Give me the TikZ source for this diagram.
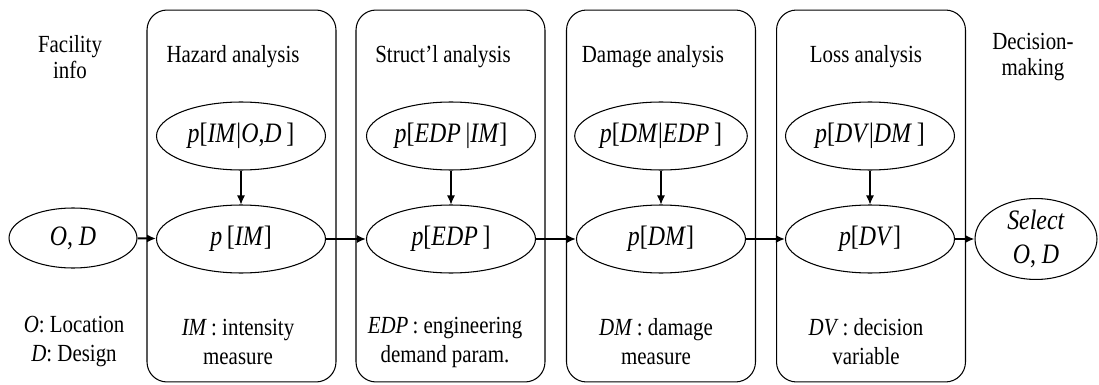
\documentclass[tikz,border=0pt]{standalone}
\usepackage{fontspec}
\setmainfont{Liberation Serif}[FakeStretch=0.85]
\usetikzlibrary{shapes.geometric,arrows.meta}

\tikzset{
  stage/.style={draw, rounded corners=0.4cm, line width=0.6pt, minimum width=3.78cm, minimum height=7.44cm},
  oval/.style={draw, ellipse, line width=0.6pt, inner sep=0pt, minimum width=3.38cm, minimum height=1.36cm, font=\fontsize{16}{18}\selectfont},
  headtext/.style={align=center, font=\fontsize{14}{15}\selectfont},
  notetext/.style={align=center, font=\fontsize{14}{16.5}\selectfont},
  flow/.style={-{Latex[length=1.8mm,width=1.6mm]}, line width=1.1pt},
  feed/.style={-{Latex[length=1.8mm,width=1.6mm]}, line width=0.6pt}
}

\begin{document}
\begin{tikzpicture}[x=0.02cm, y=-0.02cm]
			%%%%% START %%%%%
			\useasboundingbox (0,0) rectangle (1099,385);
			
			\node[stage] (hazbox) at (241.5,196) {};
			\node[stage] (strbox) at (450.5,196) {};
			\node[stage] (dambox) at (661,196) {};
			\node[stage] (losbox) at (871,196) {};
			
			\node[headtext] (facil) at (70,57) {Facility\\info};
			\node[headtext] (hazhead) at (233,57) {Hazard analysis};
			\node[headtext] (strhead) at (443,57) {Struct'l analysis};
			\node[headtext] (damhead) at (653,57) {Damage analysis};
			\node[headtext] (loshead) at (866,57) {Loss analysis};
			\node[headtext] (decis) at (1033,57) {Decision-\\making};
			
			\node[oval] (hazcond) at (241,136) {\textit{p}[\textit{IM}|\textit{O},\textit{D}\,]};
			\node[oval] (strcond) at (451,136) {\textit{p}[\textit{EDP}\,|\textit{IM}]};
			\node[oval] (damcond) at (661,136) {\textit{p}[\textit{DM}|\textit{EDP}\,]};
			\node[oval] (loscond) at (870,136) {\textit{p}[\textit{DV}|\textit{DM}\,]};
			
			\node[oval, minimum width=2.56cm, minimum height=1.2cm] (od) at (73,238) {\textit{O}, \textit{D}};
			\node[oval] (im) at (241,239) {\textit{p\,}[\textit{IM}]};
			\node[oval] (edp) at (451,239) {\textit{p}[\textit{EDP}\,]};
			\node[oval] (dm) at (661,239) {\textit{p}[\textit{DM}]};
			\node[oval] (dv) at (870,239) {\textit{p}[\textit{DV}]};
			\node[oval, minimum width=2.44cm, align=center, font=\fontsize{16}{19}\selectfont] (sel) at (1036,239) {\textit{Select}\\\textit{O}, \textit{D}};
			
			\draw[feed] (hazcond) -- (im);
			\draw[feed] (strcond) -- (edp);
			\draw[feed] (damcond) -- (dm);
			\draw[feed] (loscond) -- (dv);
			
			\draw[flow] (od) -- (im);
			\draw[flow] (im) -- (edp);
			\draw[flow] (edp) -- (dm);
			\draw[flow] (dm) -- (dv);
			\draw[flow] (dv) -- (sel);
			
			\node[notetext] (odnote) at (74,342) {\textit{O}: Location\\\textit{D}: Design};
			\node[notetext] (imnote) at (238,342) {\textit{IM}\,: intensity\\measure};
			\node[notetext] (edpnote) at (445,342) {\textit{EDP}\,: engineering\\demand param.};
			\node[notetext] (dmnote) at (656,342) {\textit{DM}\,: damage\\measure};
			\node[notetext] (dvnote) at (866,342) {\textit{DV}\,: decision\\variable};
			%%%%% END %%%%%
\end{tikzpicture}
\end{document}
